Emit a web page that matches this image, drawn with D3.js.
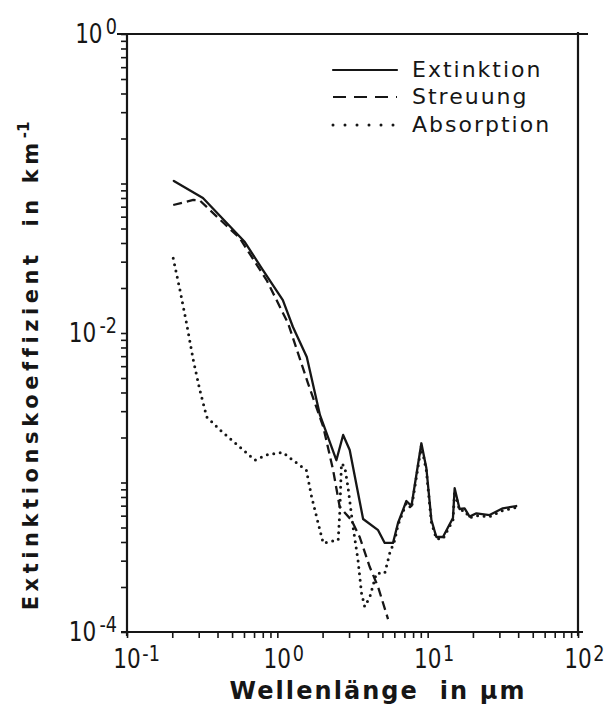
<!DOCTYPE html>
<html><head><meta charset="utf-8">
<script src="https://cdn.jsdelivr.net/npm/d3@7"></script>
<style>body{margin:0;background:#fff}svg{display:block}text{white-space:pre}</style>
</head><body><svg id="c" width="613" height="709"></svg>
<script>
// ---- data ----
const xTickExps = [-1, 0, 1, 2];
const yTickExps = [0, -2, -4];
const legendLabels = ["Extinktion", "Streuung", "Absorption"];
const xTitle = "Wellenlänge  in µm";
const yTitle = "Extinktionskoeffizient  in km";
const yTitleSup = "-1";

// Extinktion (solid)
const extWl  = [0.205, 0.32, 0.608, 0.80, 1.088, 1.27, 1.57, 1.92, 2.47, 2.74, 3.03, 3.72, 4.68, 5.18, 5.88, 6.35, 7.22, 7.80, 9.08, 9.80, 10.59, 11.42, 12.64, 14.73, 15.12, 16.3, 17.6, 19.0, 21.1, 25.8, 31.6, 38.8];
const extVal = [0.104, 0.080, 0.0406, 0.0264, 0.0166, 0.01097, 0.0069, 0.00283, 0.00141, 0.00208, 0.00165, 0.00057, 0.00048, 0.000394, 0.000394, 0.000536, 0.000752, 0.000696, 0.00183, 0.00125, 0.000561, 0.000432, 0.000432, 0.000579, 0.000915, 0.000665, 0.000672, 0.000591, 0.000622, 0.000606, 0.000672, 0.000696];

// Streuung (dashed)
const scaWl  = [0.203, 0.276, 0.305, 0.563, 0.848, 1.18, 1.60, 2.02, 2.35, 2.60, 3.11, 3.53, 4.12, 4.68, 5.45];
const scaVal = [0.0718, 0.0776, 0.077, 0.043, 0.0226, 0.0116, 0.0046, 0.00236, 0.00121, 0.000686, 0.000561, 0.000432, 0.000272, 0.0002, 0.000122];

// Absorption (dotted)
const absWl  = [0.203, 0.225, 0.249, 0.276, 0.305, 0.339, 0.415, 0.593, 0.709, 0.848, 1.09, 1.27, 1.56, 1.69, 1.87, 2.02, 2.23, 2.54, 2.60, 2.67, 2.81, 2.95, 3.19, 3.44, 3.63, 3.81, 4.12, 4.56, 5.18, 5.59, 6.04, 6.35, 7.22, 7.80, 9.08, 9.80, 10.59, 11.42, 12.64, 14.73, 15.12, 16.3, 17.6, 19.0, 21.1, 25.8, 31.6, 38.8];
const absVal = [0.0316, 0.0194, 0.0116, 0.0066, 0.00416, 0.00275, 0.00225, 0.00165, 0.00141, 0.00153, 0.00159, 0.00141, 0.00121, 0.000804, 0.000533, 0.000392, 0.000402, 0.000412, 0.000622, 0.00134, 0.00127, 0.000933, 0.000504, 0.000303, 0.000182, 0.000148, 0.000171, 0.000247, 0.000247, 0.000336, 0.000412, 0.00052, 0.00073, 0.00067, 0.00176, 0.0012, 0.00054, 0.00042, 0.00042, 0.00056, 0.00088, 0.00065, 0.00065, 0.00058, 0.0006, 0.00059, 0.00065, 0.00068];

// ---- drawing ----
const ink = "#161616";
const svg = d3.select("#c");
const x = d3.scaleLog().domain([0.1, 100]).range([127, 578]);
const y = d3.scaleLog().domain([1e-4, 1]).range([632, 34]);
const [x0, x1] = x.range();
const [y0, y1] = y.range(); // y0 bottom, y1 top

// frame (top and right, slightly overshooting like the original)
svg.append("path").attr("d", `M${x0-10},${y1}H${x1+10}`).attr("stroke", ink).attr("stroke-width", 2).attr("fill", "none");
svg.append("path").attr("d", `M${x1},${y1-2}V${y0+4}`).attr("stroke", ink).attr("stroke-width", 2.2).attr("fill", "none");

// axes
const gx = svg.append("g").attr("transform", `translate(0,${y0})`)
  .call(d3.axisBottom(x).tickValues(x.ticks()).tickSize(6).tickSizeOuter(0).tickFormat(""));
const gy = svg.append("g").attr("transform", `translate(${x0},0)`)
  .call(d3.axisLeft(y).tickValues(y.ticks()).tickSize(6).tickSizeOuter(0).tickFormat(""));
[gx, gy].forEach(g => {
  g.select(".domain").attr("stroke", ink).attr("stroke-width", 2.2);
  g.selectAll(".tick line").attr("stroke", ink).attr("stroke-width", 1.6);
});
gx.select(".domain").attr("d", `M${x0-6},0H${x1+5}`);
gy.select(".domain").attr("d", `M0,${y1-1}V${y0+4}`);

const tickFont = "'DejaVu Sans', sans-serif";
// x tick labels: "10" centred on the tick, exponent raised to the right
xTickExps.forEach(e => {
  const g = svg.append("g").attr("transform", `translate(${x(Math.pow(10, e))},668) scale(0.8,1)`);
  const base = g.append("text").attr("text-anchor", "middle").attr("font-family", tickFont)
    .attr("font-size", 27).attr("fill", ink).text("10");
  const w = base.node().getComputedTextLength();
  g.append("text").attr("x", w / 2 + 2).attr("y", -7).attr("font-family", tickFont)
    .attr("font-size", 22).attr("fill", ink).text(e < 0 ? "-" + (-e) : String(e));
});
// y tick labels
yTickExps.forEach(e => {
  const g = svg.append("g").attr("transform", `translate(117,${y(Math.pow(10, e)) + 9}) scale(0.8,1)`);
  const ex = g.append("text").attr("text-anchor", "end").attr("y", -9).attr("font-family", tickFont)
    .attr("font-size", 22).attr("fill", ink).text(e < 0 ? "-" + (-e) : String(e));
  const ew = ex.node().getComputedTextLength();
  g.append("text").attr("text-anchor", "end").attr("x", -(ew + 4)).attr("font-family", tickFont)
    .attr("font-size", 27).attr("fill", ink).text("10");
});

// series
const line = d3.line().x(d => x(d[0])).y(d => y(d[1]));
const series = [
  { wl: extWl, val: extVal, dash: null, cap: "round" },
  { wl: scaWl, val: scaVal, dash: "9,5", cap: "butt" },
  { wl: absWl, val: absVal, dash: "0,6.5", cap: "round" }
];
series.forEach((s, i) => {
  svg.append("path").datum(d3.zip(s.wl, s.val)).attr("d", line)
    .attr("fill", "none").attr("stroke", ink)
    .attr("stroke-width", i === 2 ? 3 : 2.3)
    .attr("stroke-linejoin", "round").attr("stroke-linecap", s.cap)
    .attr("stroke-dasharray", s.dash);
});

// legend
const legY = [77, 104, 132];
legendLabels.forEach((lab, i) => {
  const s = series[i];
  const ly = legY[i] - 7;
  svg.append("path").attr("d", `M333,${ly}H397`).attr("stroke", ink).attr("fill", "none")
    .attr("stroke-width", i === 2 ? 3 : 2.2).attr("stroke-linecap", s.cap)
    .attr("stroke-dasharray", i === 1 ? "13,8" : (i === 2 ? "0,12" : null));
  svg.append("text").attr("x", 412).attr("y", legY[i]).attr("font-family", tickFont)
    .attr("font-size", 22).attr("letter-spacing", 2).attr("fill", ink).text(lab);
});

// axis titles, fitted to the original's length
function fit(textSel, target, nChars) {
  const L = textSel.node().getComputedTextLength();
  textSel.attr("letter-spacing", (target - L) / nChars);
}
const xt = svg.append("text").attr("x", 378).attr("y", 699).attr("text-anchor", "middle")
  .attr("font-family", tickFont).attr("font-weight", "bold").attr("font-size", 24).attr("fill", ink).text(xTitle);
fit(xt, 297, xTitle.length);

const yt = svg.append("text").attr("transform", "translate(38,366) rotate(-90)").attr("text-anchor", "middle")
  .attr("font-family", tickFont).attr("font-weight", "bold").attr("font-size", 21).attr("fill", ink);
const ytMain = yt.append("tspan").text(yTitle);
yt.append("tspan").attr("dy", -9).attr("font-size", 15).text(yTitleSup);
const Lm = ytMain.node().getComputedTextLength();
ytMain.attr("letter-spacing", (470 - Lm) / yTitle.length);
</script></body></html>
